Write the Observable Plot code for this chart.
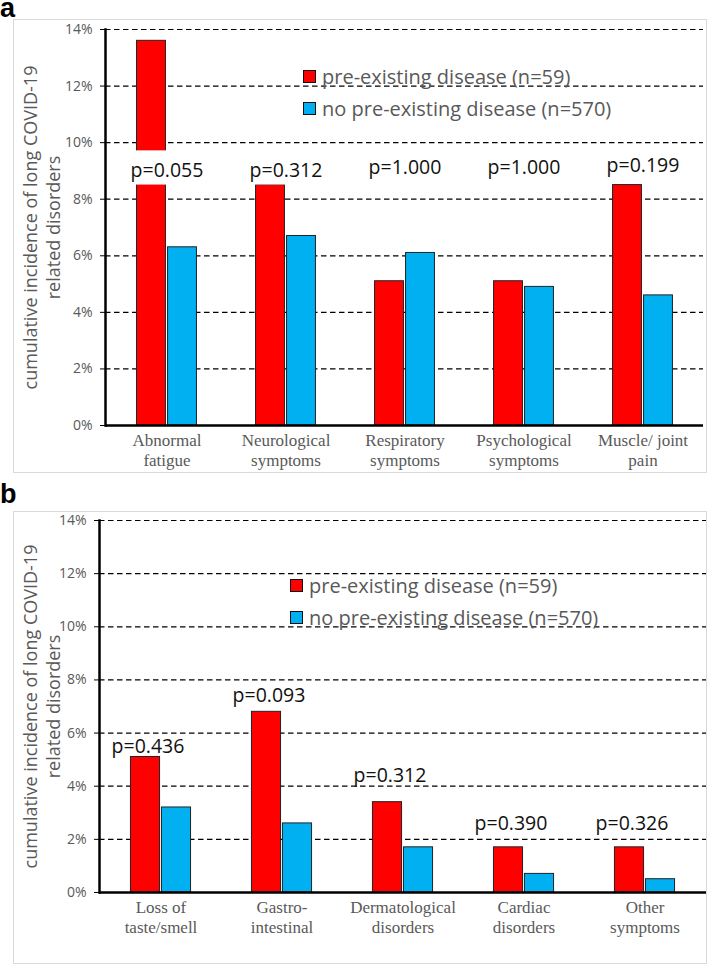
<!DOCTYPE html>
<html><head><meta charset="utf-8">
<script src="https://cdn.jsdelivr.net/npm/d3@7"></script>
<script src="https://cdn.jsdelivr.net/npm/@observablehq/plot@0.6"></script>
<style>
html,body{margin:0;padding:0;background:#fff;overflow:hidden;}
#root{position:relative;width:708px;height:965px;}
.frame{position:absolute;border:1px solid #d9d9d9;box-sizing:border-box;}
.panel-label{position:absolute;font:bold 27px "Liberation Sans",Arial,sans-serif;color:#000;line-height:10px;}
.holder{position:absolute;left:0;}
.legend{position:absolute;font-family:"Open Sans",sans-serif;font-size:20px;color:#595959;}
.legend .row{display:flex;align-items:center;height:31.5px;line-height:31px;white-space:nowrap;}
.legend .sw{width:11px;height:11px;border:1px solid #111;margin-right:6px;flex:none;}
</style></head><body><div id="root"></div>
<script>
// ---- data ----
const seriesNames = ["pre-existing disease (n=59)", "no pre-existing disease (n=570)"];
const seriesColors = ["#ff0000", "#00b0f0"];

const categoriesA = ["Abnormal\nfatigue", "Neurological\nsymptoms", "Respiratory\nsymptoms", "Psychological\nsymptoms", "Muscle/ joint\npain"];
const preA = [13.6, 8.5, 5.1, 5.1, 8.5];
const noPreA = [6.3, 6.7, 6.1, 4.9, 4.6];
const pValuesA = ["p=0.055", "p=0.312", "p=1.000", "p=1.000", "p=0.199"];
const pLabelHeightA = [9.0, 9.0, 9.1, 9.1, 9.2];

const categoriesB = ["Loss of\ntaste/smell", "Gastro-\nintestinal", "Dermatological\ndisorders", "Cardiac\ndisorders", "Other\nsymptoms"];
const preB = [5.1, 6.8, 3.4, 1.7, 1.7];
const noPreB = [3.2, 2.6, 1.7, 0.7, 0.5];
const pValuesB = ["p=0.436", "p=0.093", "p=0.312", "p=0.390", "p=0.326"];
const pLabelHeightB = [5.5, 7.4, 4.4, 2.6, 2.6];

const yTicks = [0, 2, 4, 6, 8, 10, 12, 14];
const yLabel = "cumulative incidence of long COVID-19\nrelated disorders";

// ---- drawing ----
const root = document.getElementById("root");

function panel(cfg) {
  const {categories, pre, noPre, pValues, pHeights, height, marginLeft, marginRight, marginTop, marginBottom, pDx, labelBox, labelDx} = cfg;
  const width = 708;
  const rows = categories.map((c, i) => ({c, pre: pre[i], no: noPre[i], p: pValues[i], ph: pHeights[i]}));
  const bw = (width - marginLeft - marginRight) / categories.length;
  const barW = 29.5, gap = 1.5;
  const redInset = {insetLeft: bw / 2 - gap / 2 - barW, insetRight: bw / 2 + gap / 2};
  const blueInset = {insetLeft: bw / 2 + gap / 2, insetRight: bw / 2 - gap / 2 - barW};
  const boxInset = (bw - 80) / 2;
  return Plot.plot({
    width, height, marginLeft, marginRight, marginTop, marginBottom,
    style: {background: "transparent", overflow: "visible"},
    x: {domain: categories, padding: 0, axis: null},
    y: {domain: [0, 14], axis: null},
    marks: [
      Plot.ruleY(yTicks.filter(d => d > 0), {stroke: "#000", strokeWidth: 1.2, strokeDasharray: "5.5,3.5"}),
      Plot.barY(rows, {x: "c", y: "pre", fill: seriesColors[0], stroke: "#222", strokeWidth: 1, ...redInset}),
      Plot.barY(rows, {x: "c", y: "no", fill: seriesColors[1], stroke: "#222", strokeWidth: 1, ...blueInset}),
      labelBox ? Plot.barY(rows, {x: "c", y1: d => d.ph - 0.5, y2: d => d.ph + 0.71, fill: "white", insetLeft: boxInset, insetRight: boxInset}) : null,
      Plot.ruleY([0], {stroke: "#000", strokeWidth: 2.5}),
      Plot.frame({anchor: "left", stroke: "#000", strokeWidth: 2.5}),
      Plot.axisY({ticks: yTicks, tickSize: 5, tickPadding: 8, tickFormat: d => d + "%", stroke: "#000", fill: "#595959", fontSize: 14, fontFamily: "Open Sans", label: null}),
      Plot.axisX({tickSize: 0, tickPadding: 7, fontSize: 17, fontFamily: "Liberation Serif", fill: "#595959", lineHeight: 1.15, label: null}),
      Plot.text(rows, {x: "c", y: "ph", text: "p", dx: pDx, fontSize: 19.5, fontFamily: "Open Sans", fill: "#111"}),
      Plot.text([yLabel], {text: d => d, frameAnchor: "left", textAnchor: "middle", lineAnchor: "middle", rotate: -90, dx: labelDx, fontSize: 18, lineHeight: 1.25, fill: "#595959", fontFamily: "Open Sans"})
    ]
  });
}

function addFrame(x, y, w, h) {
  const d = document.createElement("div");
  d.className = "frame";
  Object.assign(d.style, {left: x + "px", top: y + "px", width: w + "px", height: h + "px"});
  root.appendChild(d);
}
function addLabel(t, top) {
  const d = document.createElement("div");
  d.className = "panel-label";
  d.textContent = t;
  Object.assign(d.style, {left: "0px", top: top + "px"});
  root.appendChild(d);
}
function addLegend(left, top) {
  const lg = document.createElement("div");
  lg.className = "legend";
  Object.assign(lg.style, {left: left + "px", top: top + "px"});
  seriesNames.forEach((n, i) => {
    const r = document.createElement("div"); r.className = "row";
    const s = document.createElement("div"); s.className = "sw"; s.style.background = seriesColors[i];
    const t = document.createElement("span"); t.textContent = n;
    r.appendChild(s); r.appendChild(t); lg.appendChild(r);
  });
  root.appendChild(lg);
}
function addPlot(svg, top) {
  const h = document.createElement("div");
  h.className = "holder"; h.style.top = top + "px";
  h.appendChild(svg); root.appendChild(h);
}

addFrame(13, 19, 694, 454);
addFrame(13, 511, 694, 453);
addLabel("a", 3);
addLabel("b", 489);

addPlot(panel({categories: categoriesA, pre: preA, noPre: noPreA, pValues: pValuesA, pHeights: pLabelHeightA,
  height: 453, marginLeft: 105, marginRight: 5, marginTop: 10, marginBottom: 47, pDx: 0, labelBox: true, labelDx: -64}), 19);
addPlot(panel({categories: categoriesB, pre: preB, noPre: noPreB, pValues: pValuesB, pHeights: pLabelHeightB,
  height: 452, marginLeft: 99, marginRight: 2, marginTop: 9, marginBottom: 71, pDx: -13, labelBox: false, labelDx: -58}), 511);

addLegend(303, 61);
addLegend(290, 570);
</script></body></html>
